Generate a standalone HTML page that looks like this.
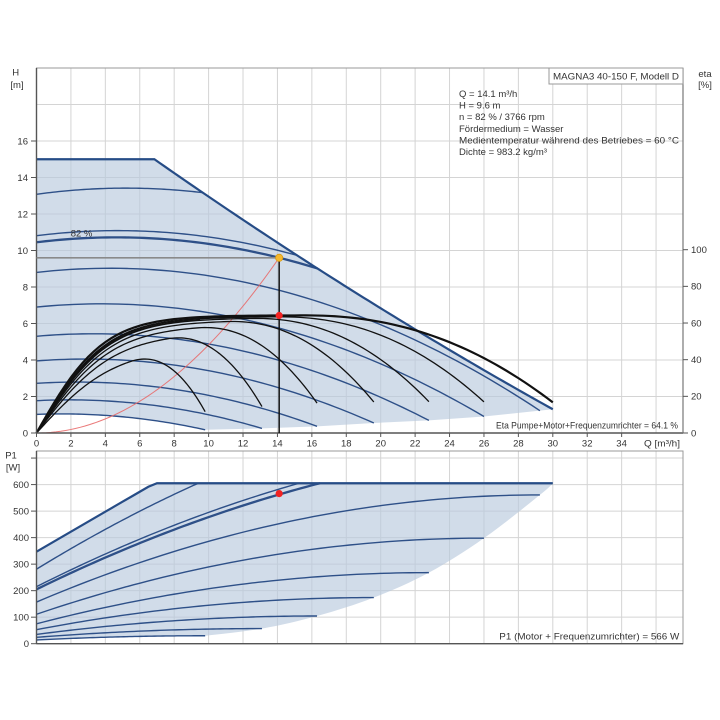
<!DOCTYPE html>
<html><head><meta charset="utf-8">
<style>
html,body{margin:0;padding:0;background:#fff;width:720px;height:720px;overflow:hidden}
svg{display:block}
text{font-family:"Liberation Sans",Arial,sans-serif;font-size:9.5px;fill:#333}
</style></head><body>
<svg id="s" width="720" height="720" viewBox="0 0 720 720" xmlns="http://www.w3.org/2000/svg">
<rect width="720" height="720" fill="#fff"/>
<g id="grid" stroke="#d4d4d4" stroke-width="1" fill="none"></g>
<g id="shade"></g>
<g id="blue" fill="none" stroke="#2e5088" stroke-width="1.4"></g>
<g id="black" fill="none" stroke="#111" stroke-width="1.3"></g>
<g id="frame" fill="none"></g>
<g id="marks"></g>

<!-- info box -->
<rect x="549" y="68" width="134" height="16" fill="#fff" stroke="#999" stroke-width="1"/>
<text x="553" y="79.3" textLength="126" lengthAdjust="spacingAndGlyphs">MAGNA3 40-150 F, Modell D</text>
<text x="459" y="96.8">Q = 14.1 m³/h</text>
<text x="459" y="108.45">H = 9.6 m</text>
<text x="459" y="120.1">n = 82 % / 3766 rpm</text>
<text x="459" y="131.75">Fördermedium = Wasser</text>
<text x="459" y="143.4" textLength="220" lengthAdjust="spacingAndGlyphs">Medientemperatur während des Betriebes = 60 °C</text>
<text x="459" y="155.05">Dichte = 983.2 kg/m³</text>

<!-- axis titles -->
<text x="15.7" y="75.5" text-anchor="middle">H</text>
<text x="17" y="88" text-anchor="middle">[m]</text>
<text x="705" y="77" text-anchor="middle">eta</text>
<text x="705" y="88" text-anchor="middle">[%]</text>
<text x="11" y="458.5" text-anchor="middle">P1</text>
<text x="13" y="470.7" text-anchor="middle">[W]</text>
<text x="644" y="446.5" textLength="36" lengthAdjust="spacingAndGlyphs">Q [m³/h]</text>
<text x="496" y="428.3" textLength="182" lengthAdjust="spacingAndGlyphs">Eta Pumpe+Motor+Frequenzumrichter = 64.1 %</text>
<text x="499.3" y="639.3" textLength="180" lengthAdjust="spacingAndGlyphs">P1 (Motor + Frequenzumrichter) = 566 W</text>
<text x="70.7" y="236.6">82 %</text>

<!-- left H labels -->
<g text-anchor="end">
<text x="28" y="436.3">0</text>
<text x="28" y="399.8">2</text>
<text x="28" y="363.3">4</text>
<text x="28" y="326.8">6</text>
<text x="28" y="290.3">8</text>
<text x="28" y="253.8">10</text>
<text x="28" y="217.3">12</text>
<text x="28" y="180.8">14</text>
<text x="28" y="144.3">16</text>
</g>
<!-- right eta labels -->
<g>
<text x="691" y="436.3">0</text>
<text x="691" y="399.6">20</text>
<text x="691" y="363">40</text>
<text x="691" y="326.3">60</text>
<text x="691" y="289.6">80</text>
<text x="691" y="253">100</text>
</g>
<!-- x labels -->
<g text-anchor="middle">
<text x="36.5" y="446.5">0</text>
<text x="70.9" y="446.5">2</text>
<text x="105.3" y="446.5">4</text>
<text x="139.8" y="446.5">6</text>
<text x="174.2" y="446.5">8</text>
<text x="208.6" y="446.5">10</text>
<text x="243" y="446.5">12</text>
<text x="277.4" y="446.5">14</text>
<text x="311.9" y="446.5">16</text>
<text x="346.3" y="446.5">18</text>
<text x="380.7" y="446.5">20</text>
<text x="415.1" y="446.5">22</text>
<text x="449.5" y="446.5">24</text>
<text x="484" y="446.5">26</text>
<text x="518.4" y="446.5">28</text>
<text x="552.8" y="446.5">30</text>
<text x="587.2" y="446.5">32</text>
<text x="621.6" y="446.5">34</text>
</g>
<!-- bottom P labels -->
<g text-anchor="end">
<text x="29" y="647">0</text>
<text x="29" y="620.5">100</text>
<text x="29" y="593.9">200</text>
<text x="29" y="567.4">300</text>
<text x="29" y="540.9">400</text>
<text x="29" y="514.4">500</text>
<text x="29" y="487.8">600</text>
</g>
</svg>
<script>
(function(){
const NS='http://www.w3.org/2000/svg';
function el(parent,tag,attrs){const e=document.createElementNS(NS,tag);for(const k in attrs)e.setAttribute(k,attrs[k]);document.getElementById(parent).appendChild(e);return e;}
const X=q=>36.5+17.21*q, YH=h=>433-18.25*h, YE=e=>433-1.833*e, YP=p=>643.7-0.2652*p;
function pts(f,q0,q1,Yf,n){n=n||80;const a=[];for(let i=0;i<=n;i++){const q=q0+(q1-q0)*i/n;a.push([X(q),Yf(f(q))]);}return a;}
function toD(a){return 'M'+a.map(p=>p[0].toFixed(2)+','+p[1].toFixed(2)).join('L');}
function line(g,x1,y1,x2,y2,attrs){const o={x1:x1,y1:y1,x2:x2,y2:y2};for(const k in (attrs||{}))o[k]=attrs[k];return el(g,'line',o);}

// GRID
for(let k=1;k<=18;k++){const x=X(2*k);line('grid',x,68,x,433);line('grid',x,451,x,643.7);}
for(let h=2;h<=18;h+=2){const y=YH(h);line('grid',36.5,y,683,y);}
for(let p=100;p<=700;p+=100){const y=YP(p);line('grid',36.5,y,683,y);}

// MODELS
const hq=H0=>q=>H0+0.13*Math.sqrt(H0/13.08)*q-0.0125*q*q;
const Hmax=q=>q<=6.85?15:15-0.6595*(q-6.85)+0.002927*(q-6.85)*(q-6.85);
const pf=(P0,Pe,Qe)=>q=>{const t=q/Qe;return P0+(Pe-P0)*(2*t-t*t);};
const Pmax=q=>q<=6.85?347+258*q/6.85:605;

const low=[ // H0, Qend, P0, Pend
 [8.8,29.25,157,561],[6.9,26,111,398],[5.3,22.8,75,268],[3.95,19.6,53,174],
 [2.72,16.3,35,104.5],[1.77,13.1,24,57],[1.02,9.8,14,30]];
const up=[ // H0, P0, Pe(virtual at 35), width
 [13.08,281,978,1.4],[10.81,215,787,1.4],[10.45,205,761,2.3]];

// SHADE TOP
let a=[[X(0),YH(1.02)],[X(0),YH(15)]];
a=a.concat(pts(Hmax,0,30,YH,120));
for(const c of low){a.push([X(c[1]),YH(hq(c[0])(c[1]))]);}
a=a.concat(pts(hq(1.02),9.8,0,YH,40));
el('shade','path',{d:toD(a)+'Z',fill:'rgb(185,202,222)','fill-opacity':'0.66',stroke:'none'});
// SHADE BOTTOM
let b=[[X(0),YP(14)],[X(0),YP(347)]];
b=b.concat(pts(Pmax,0,30,YP,60));
const bend=[[30,605]];for(const c of low)bend.push([c[1],c[3]]);
function cr(P,n){const out=[];for(let i=0;i<P.length-1;i++){const p0=P[Math.max(0,i-1)],p1=P[i],p2=P[i+1],p3=P[Math.min(P.length-1,i+2)];for(let j=0;j<n;j++){const t=j/n,t2=t*t,t3=t2*t;const f=(a0,a1,a2,a3)=>0.5*((2*a1)+(-a0+a2)*t+(2*a0-5*a1+4*a2-a3)*t2+(-a0+3*a1-3*a2+a3)*t3);out.push([f(p0[0],p1[0],p2[0],p3[0]),f(p0[1],p1[1],p2[1],p3[1])]);}}out.push(P[P.length-1]);return out;}
const bendPx=bend.map(p=>[X(p[0]),YP(p[1])]);
b=b.concat(cr(bendPx,8));
b=b.concat(pts(pf(14,30,9.8),9.8,0,YP,30));
el('shade','path',{d:toD(b)+'Z',fill:'rgb(185,202,222)','fill-opacity':'0.66',stroke:'none'});

// BLUE H CURVES
for(const c of low){el('blue','path',{d:toD(pts(hq(c[0]),0,c[1],YH,60))});}
for(const c of up){
  const f=hq(c[0]);let qe=6.85;while(qe<30&&f(qe)<Hmax(qe))qe+=0.01;
  el('blue','path',{d:toD(pts(f,0,qe,YH,60)),'stroke-width':c[3]});
}
el('blue','path',{d:toD([[X(0),YH(15)]].concat(pts(Hmax,6.85,30,YH,80))),stroke:'#264c86','stroke-width':'2.2'});

// BLUE P CURVES
for(const c of low){el('blue','path',{d:toD(pts(pf(c[2],c[3],c[1]),0,c[1],YP,60))});}
for(const c of up){
  const f=pf(c[1],c[2],35);let qe=0;while(qe<30&&f(qe)<605)qe+=0.01;
  el('blue','path',{d:toD(pts(f,0,qe,YP,60)),'stroke-width':c[3]});
}
el('blue','path',{d:toD(pts(Pmax,0,30,YP,60)),stroke:'#264c86','stroke-width':'2.2'});

// SYSTEM CURVE
el('black','path',{d:toD(pts(q=>0.0483*q*q,0,14.1,YH,50)),stroke:'#e86a6a','stroke-width':'1','stroke-opacity':'0.9'});

// ETA CURVES
const etas=[ // Qe, ee, E, tau, Qs, width
 [9.8,11.6,47,4.6,5.4,1.3],[13.1,14.4,55,4.5,7.6,1.3],[16.3,16.3,59,4.4,9.3,1.3],
 [19.6,16.9,61.5,4.3,11,1.3],[22.8,17.1,62.8,4.2,12.5,1.3],[26,17,63.5,4.1,14,1.3],
 [30,16.7,64.2,3.9,15.5,2.2]];
function ef(c){const Qe=c[0],ee=c[1],E=c[2],tau=c[3],Qs=c[4];const endBase=E*Math.tanh(Qe/tau);const k=1-ee/endBase;
  return q=>{let v=E*Math.tanh(q/tau);if(q>Qs){const u=(q-Qs)/(Qe-Qs);v*=1-Math.pow(u,2.2)*k;}return v;};}
for(const c of etas){el('black','path',{d:toD(pts(ef(c),0,c[0],YE,90)),'stroke-width':c[5]});}
el('black','path',{d:toD(pts(q=>63*Math.tanh(q/4.15),0,9.5,YE,50))});
el('black','path',{d:toD(pts(q=>63.6*Math.tanh(q/4.05),0,14.8,YE,60))});

// FRAMES / AXES
el('frame','rect',{x:36.5,y:68,width:646.5,height:365,stroke:'#999','stroke-width':'1'});
el('frame','rect',{x:36.5,y:451,width:646.5,height:192.7,stroke:'#999','stroke-width':'1'});
line('frame',36.5,68,36.5,433,{stroke:'#555','stroke-width':'1.4'});
line('frame',36.5,433,683,433,{stroke:'#555','stroke-width':'1.4'});
line('frame',683,68,683,433,{stroke:'#777','stroke-width':'1.2'});
line('frame',36.5,451,36.5,643.7,{stroke:'#555','stroke-width':'1.4'});
line('frame',36.5,643.7,683,643.7,{stroke:'#555','stroke-width':'1.4'});
for(let h=0;h<=16;h+=2)line('frame',31,YH(h),36.5,YH(h),{stroke:'#555','stroke-width':'1'});
for(let e=0;e<=100;e+=20)line('frame',683,YE(e),688,YE(e),{stroke:'#555','stroke-width':'1'});
for(let q=0;q<=34;q+=2)line('frame',X(q),433,X(q),437,{stroke:'#555','stroke-width':'1'});
for(let p=0;p<=700;p+=100)line('frame',31,YP(p),36.5,YP(p),{stroke:'#555','stroke-width':'1'});

// OPERATING POINT
const xo=X(14.1);
line('marks',36.5,YH(9.6),xo,YH(9.6),{stroke:'#8a8a8a','stroke-width':'1.6'});
line('marks',xo,YH(9.6),xo,433,{stroke:'#111','stroke-width':'1.5'});
el('marks','circle',{cx:xo,cy:YH(9.6),r:3.6,fill:'#f5b82e',stroke:'#d99a10','stroke-width':'0.8'});
el('marks','circle',{cx:xo,cy:YE(64.1),r:3.6,fill:'#f22222'});
el('marks','circle',{cx:xo,cy:YP(566),r:3.6,fill:'#f22222'});
})();
</script>
</body></html>
